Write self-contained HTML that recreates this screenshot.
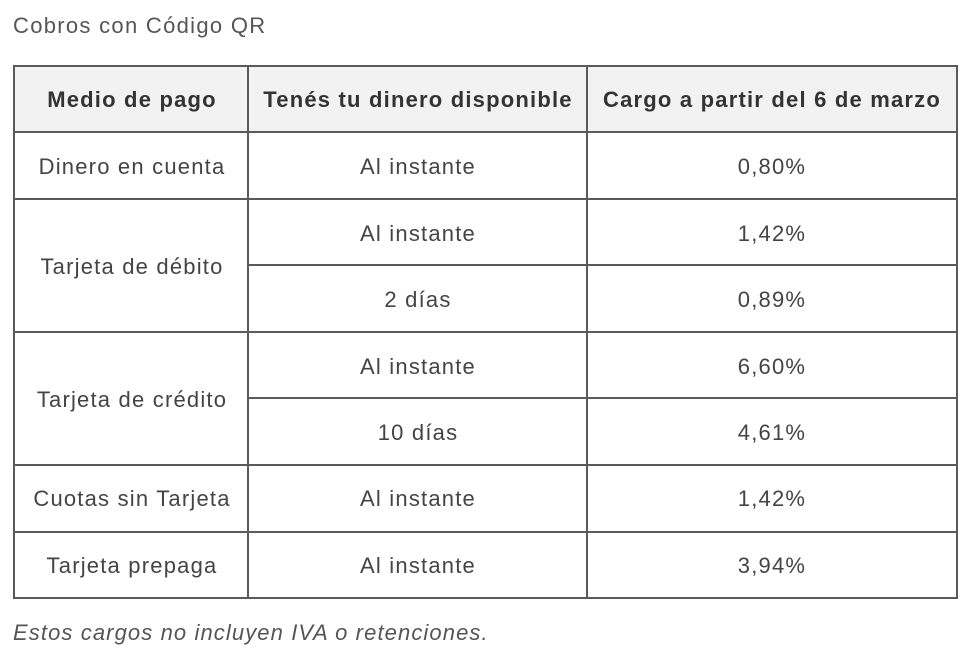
<!DOCTYPE html>
<html><head><meta charset="utf-8"><style>
body{margin:0;width:970px;height:656px;background:#fff;position:relative;overflow:hidden;font-family:"Liberation Sans",sans-serif;color:#444}
.h{position:absolute;height:2px;background:#5a5a5a}
.v{position:absolute;width:2px;background:#5a5a5a}
.t{position:absolute;transform:translate(-50%,-50%);white-space:nowrap;font-size:22px;letter-spacing:1.2px}
.b{font-weight:bold;color:#333}
</style></head><body>
<div style="position:absolute;left:13px;top:13px;font-size:22px;letter-spacing:1.3px;color:#555">Cobros con Código QR</div>
<div style="position:absolute;left:14px;top:67px;width:942px;height:65px;background:#f2f2f2"></div>
<div class="h" style="left:13px;width:945px;top:65px"></div>
<div class="h" style="left:13px;width:945px;top:131px"></div>
<div class="h" style="left:13px;width:945px;top:198px"></div>
<div class="h" style="left:248px;width:710px;top:264px"></div>
<div class="h" style="left:13px;width:945px;top:331px"></div>
<div class="h" style="left:248px;width:710px;top:397px"></div>
<div class="h" style="left:13px;width:945px;top:464px"></div>
<div class="h" style="left:13px;width:945px;top:531px"></div>
<div class="h" style="left:13px;width:945px;top:597px"></div>
<div class="v" style="left:13px;top:65px;height:534px"></div>
<div class="v" style="left:247px;top:65px;height:534px"></div>
<div class="v" style="left:586px;top:65px;height:534px"></div>
<div class="v" style="left:956px;top:65px;height:534px"></div>
<div class="t b" style="left:132px;top:100px">Medio de pago</div>
<div class="t b" style="left:418px;top:100px">Tenés tu dinero disponible</div>
<div class="t b" style="left:772px;top:100px">Cargo a partir del 6 de marzo</div>
<div class="t" style="left:132px;top:167px">Dinero en cuenta</div>
<div class="t" style="left:418px;top:167px">Al instante</div>
<div class="t" style="left:772px;top:167px">0,80%</div>
<div class="t" style="left:132px;top:267px">Tarjeta de débito</div>
<div class="t" style="left:418px;top:234px">Al instante</div>
<div class="t" style="left:772px;top:234px">1,42%</div>
<div class="t" style="left:418px;top:300px">2 días</div>
<div class="t" style="left:772px;top:300px">0,89%</div>
<div class="t" style="left:132px;top:400px">Tarjeta de crédito</div>
<div class="t" style="left:418px;top:367px">Al instante</div>
<div class="t" style="left:772px;top:367px">6,60%</div>
<div class="t" style="left:418px;top:433px">10 días</div>
<div class="t" style="left:772px;top:433px">4,61%</div>
<div class="t" style="left:132px;top:499px">Cuotas sin Tarjeta</div>
<div class="t" style="left:418px;top:499px">Al instante</div>
<div class="t" style="left:772px;top:499px">1,42%</div>
<div class="t" style="left:132px;top:566px">Tarjeta prepaga</div>
<div class="t" style="left:418px;top:566px">Al instante</div>
<div class="t" style="left:772px;top:566px">3,94%</div>
<div style="position:absolute;left:13px;top:620px;font-size:22px;letter-spacing:1.1px;font-style:italic;color:#555">Estos cargos no incluyen IVA o retenciones.</div>
</body></html>
